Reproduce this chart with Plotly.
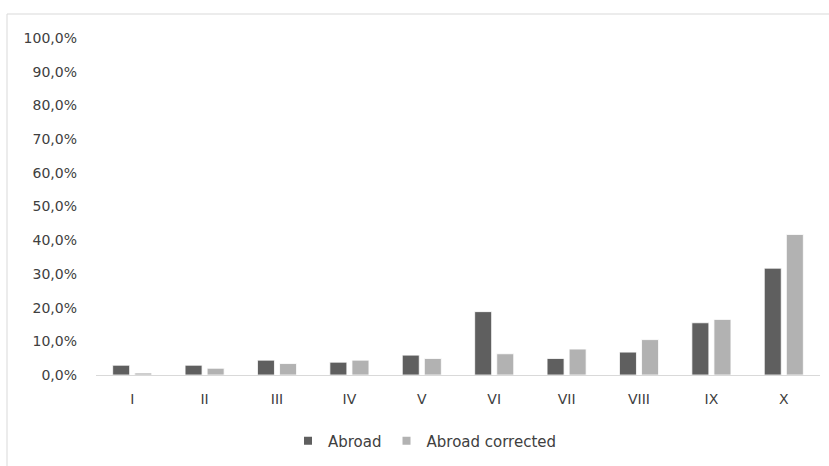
import plotly.graph_objects as go

categories = ["I", "II", "III", "IV", "V", "VI", "VII", "VIII", "IX", "X"]
abroad = [0.029, 0.029, 0.044, 0.038, 0.059, 0.188, 0.049, 0.068, 0.155, 0.317]
abroad_corrected = [0.006, 0.020, 0.034, 0.044, 0.049, 0.063, 0.077, 0.105, 0.165, 0.417]
y_ticks = [i / 10 for i in range(11)]

series_names = ["Abroad", "Abroad corrected"]
series_colors = ["#5f5f5f", "#b2b2b2"]

W, H = 829, 466
L, R, T, B = 96, 9, 38, 91

font = dict(family="DejaVu Sans, sans-serif", size=14, color="#404040")

fig = go.Figure()
for name, vals, color in zip(series_names, [abroad, abroad_corrected], series_colors):
    fig.add_trace(go.Bar(name=name, x=categories, y=vals, showlegend=False,
                         marker=dict(color=color, line=dict(color="white", width=0.8))))
# compact square legend keys
for name, color in zip(series_names, series_colors):
    fig.add_trace(go.Scatter(name=name, x=[None], y=[None], mode="markers",
                             marker=dict(symbol="square", size=8, color=color),
                             showlegend=True))

pw = W - L - R
ph = H - T - B

def px_x(p):
    return (p - L) / pw

def px_y(p):
    return (H - B - p) / ph

fig.update_layout(
    width=W, height=H,
    margin=dict(l=L, r=R, t=T, b=B, pad=0),
    paper_bgcolor="white", plot_bgcolor="white",
    separators=",.",
    font=font,
    barmode="group", bargap=0.39, bargroupgap=0.23,
    showlegend=True,
    legend=dict(orientation="h", x=px_x(425), xanchor="center",
                y=px_y(441), yanchor="middle",
                font=dict(family="DejaVu Sans, sans-serif", size=15, color="#404040"),
                itemwidth=30, traceorder="normal", tracegroupgap=0),
    xaxis=dict(showline=True, linecolor="#d9d9d9", linewidth=1, ticks="",
               showgrid=False, tickfont=font, ticklabelstandoff=11),
    yaxis=dict(range=[0, 1], tickvals=y_ticks, tickformat=".1%", showgrid=False,
               zeroline=False, showline=False, ticks="", tickfont=font,
               ticklabelstandoff=18),
    shapes=[dict(type="rect", xref="paper", yref="paper",
                 x0=px_x(7), x1=px_x(W + 5), y0=px_y(H + 5), y1=px_y(14),
                 line=dict(color="#d9d9d9", width=1), fillcolor="rgba(0,0,0,0)",
                 layer="below")],
)

fig.write_html("out.html")
